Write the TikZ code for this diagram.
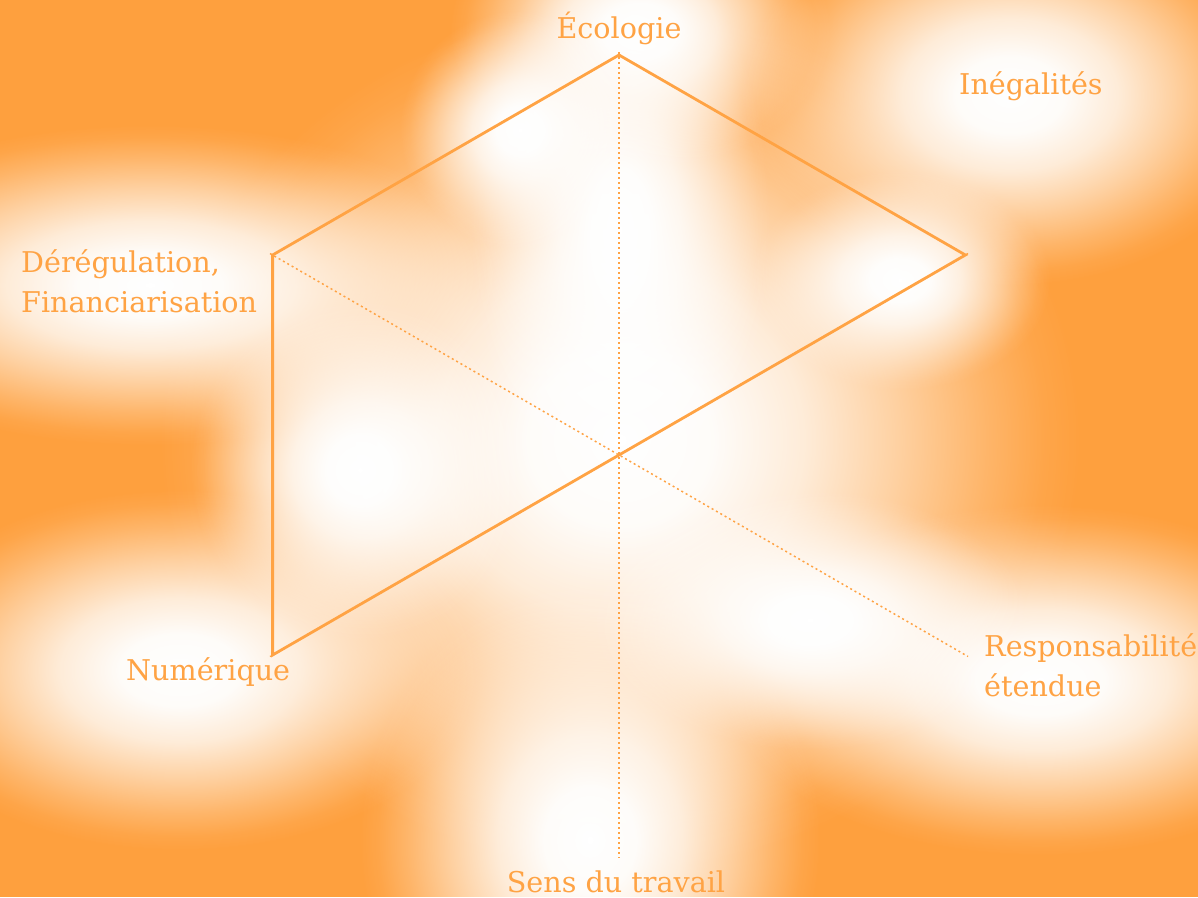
\documentclass[tikz,border=0pt]{standalone}
\usepackage{fontspec}
\setmainfont{DejaVu Serif}
\usetikzlibrary{fadings}

\definecolor{bgorange}{RGB}{254,160,62}
\definecolor{accent}{RGB}{255,163,68}

% soft white spots of the background
\pgfdeclareradialshading{blobshade}{\pgfpointorigin}{color(0bp)=(white); color(5bp)=(white!97!black); color(10bp)=(white!80!black); color(15bp)=(white!52!black); color(20bp)=(white!22!black); color(23bp)=(white!6!black); color(25bp)=(black); color(50bp)=(black)}
\pgfdeclarefading{blob}{\pgfuseshading{blobshade}}

\tikzset{
  lbl/.style={text=accent, font=\fontsize{28.6}{40}\selectfont, inner sep=0pt},
  axis/.style={accent, line width=1.5pt, dash pattern=on 2pt off 3pt},
  radar/.style={accent, line width=2.8pt, line join=miter},
}

\begin{document}
\begin{tikzpicture}[x=1pt, y=-1pt]
  \useasboundingbox (0,0) rectangle (1198,897);
  \fill[bgorange] (0,0) rectangle (1198,897);
  \foreach \cx/\cy/\rx/\ry in {620/440/460/430, 620/230/150/300, 640/30/190/140,
      1010/95/270/190, 150/285/360/160, 180/670/300/180, 1040/680/320/175,
      590/840/230/260, 810/620/220/130, 900/280/150/110, 520/130/120/120,
      360/470/170/170}
    \fill[white, path fading=blob] (\cx,\cy) ellipse [x radius=\rx, y radius=\ry];

  % centre and ends of the axes
  \coordinate (c) at (619,455);
  \coordinate (eco) at (619,55);
  \coordinate (ineg) at (965.4,255);
  \coordinate (resp) at (965.4,655);
  \coordinate (sens) at (619,855);
  \coordinate (num) at (272.6,655);
  \coordinate (dereg) at (272.6,255);

  % axes
  \draw[axis] (619,52) -- (619,858);
  \draw[axis] (270,253.5) -- (968,656.5);
  \draw[axis] (968,253.5) -- (270,656.5);

  % values
  \draw[radar] (eco) -- (ineg) -- (c) -- (num) -- (dereg) -- cycle;

  % labels
  \node[lbl, anchor=base] (ecologie) at (619,38) {Écologie};
  \node[lbl, anchor=base west] (inegalites) at (959,94) {Inégalités};
  \node[lbl, anchor=base west, align=left] (deregulation) at (21,312) {Dérégulation,\\Financiarisation};
  \node[lbl, anchor=base west] (numerique) at (126,680) {Numérique};
  \node[lbl, anchor=base west, align=left] (responsabilite) at (984,696) {Responsabilité\\étendue};
  \node[lbl, anchor=base] (travail) at (616,892) {Sens du travail};
\end{tikzpicture}
\end{document}
